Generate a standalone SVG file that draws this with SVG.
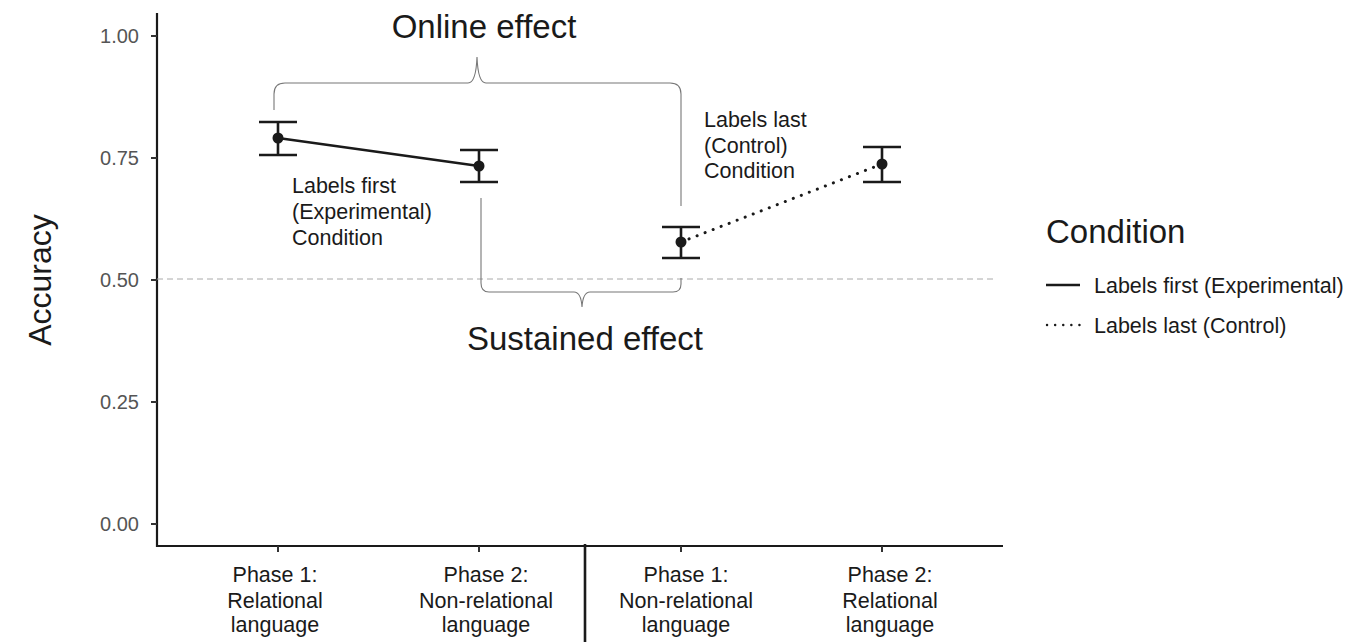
<svg xmlns="http://www.w3.org/2000/svg" width="1358" height="642" viewBox="0 0 1358 642">
<style>
text{font-family:"Liberation Sans",Arial,sans-serif;fill:#1a1a1a}
.tick{font-size:20px;fill:#555;text-anchor:end}
.xl{font-size:21.5px;text-anchor:middle}
.ann{font-size:21.5px}
.big{font-size:33px;text-anchor:middle}
.axis{stroke:#1a1a1a;stroke-width:2.2;fill:none}
.eb{stroke:#1a1a1a;stroke-width:2.6;fill:none}
.brace{stroke:#777;stroke-width:1.1;fill:none}
.pt{fill:#1a1a1a}
</style>
<rect width="1358" height="642" fill="#fff"/>
<g id="axes">
<line class="axis" x1="157" y1="13" x2="157" y2="547"/>
<line class="axis" x1="156" y1="546" x2="1003" y2="546"/>
<g stroke="#333" stroke-width="2">
<line x1="151" y1="36" x2="157" y2="36"/>
<line x1="151" y1="158" x2="157" y2="158"/>
<line x1="151" y1="280" x2="157" y2="280"/>
<line x1="151" y1="402" x2="157" y2="402"/>
<line x1="151" y1="524" x2="157" y2="524"/>
<line x1="278" y1="546" x2="278" y2="552"/>
<line x1="479" y1="546" x2="479" y2="552"/>
<line x1="681" y1="546" x2="681" y2="552"/>
<line x1="882" y1="546" x2="882" y2="552"/>
</g>
<text class="tick" x="139" y="43">1.00</text>
<text class="tick" x="139" y="165">0.75</text>
<text class="tick" x="139" y="287">0.50</text>
<text class="tick" x="139" y="409">0.25</text>
<text class="tick" x="139" y="531">0.00</text>
<text x="51" y="280" font-size="32" text-anchor="middle" transform="rotate(-90 51 280)">Accuracy</text>
<line x1="585" y1="544" x2="585" y2="642" stroke="#1a1a1a" stroke-width="2.6"/>
</g>
<g id="reference-line">
<line x1="157" y1="279" x2="993" y2="279" stroke="#aaa" stroke-width="1" stroke-dasharray="6 4"/>
</g>
<g id="x-labels">
<text class="xl" x="275" y="582">Phase 1:</text>
<text class="xl" x="275" y="608">Relational</text>
<text class="xl" x="275" y="632">language</text>
<text class="xl" x="486" y="582">Phase 2:</text>
<text class="xl" x="486" y="608">Non-relational</text>
<text class="xl" x="486" y="632">language</text>
<text class="xl" x="686" y="582">Phase 1:</text>
<text class="xl" x="686" y="608">Non-relational</text>
<text class="xl" x="686" y="632">language</text>
<text class="xl" x="890" y="582">Phase 2:</text>
<text class="xl" x="890" y="608">Relational</text>
<text class="xl" x="890" y="632">language</text>
</g>
<g id="connectors">
<line x1="278" y1="138" x2="479" y2="166" stroke="#1a1a1a" stroke-width="2.6"/>
<line x1="681" y1="242" x2="882" y2="164" stroke="#1a1a1a" stroke-width="3" stroke-dasharray="0.1 8.5" stroke-linecap="round"/>
</g>
<g id="online-brace">
<path class="brace" d="M274 110 L274 94 Q274 83 285 83 L468 83 Q476 83 477 57 Q478 83 486 83 L670 83 Q681 83 681 94 L681 206"/>
<text class="big" x="484" y="38">Online effect</text>
</g>
<g id="sustained-brace">
<path class="brace" d="M481 198 L481 283 Q481 292 489 292 L574 292 Q581 292 582 307 Q583 292 590 292 L673 292 Q681 292 681 284 L681 278"/>
<text class="big" x="585" y="350">Sustained effect</text>
</g>
<g id="p1-rel">
<path class="eb" d="M259 122 H297 M278 122 V155 M259 155 H297"/>
<circle class="pt" cx="278" cy="138" r="5.5"/>
</g>
<g id="p2-nonrel">
<path class="eb" d="M460 150 H498 M479 150 V182 M460 182 H498"/>
<circle class="pt" cx="479" cy="166" r="5.5"/>
</g>
<g id="c1-nonrel">
<path class="eb" d="M662 227 H700 M681 227 V258 M662 258 H700"/>
<circle class="pt" cx="681" cy="242" r="5.5"/>
</g>
<g id="c2-rel">
<path class="eb" d="M863 147 H901 M882 147 V182 M863 182 H901"/>
<circle class="pt" cx="882" cy="164" r="5.5"/>
</g>
<g id="label-first">
<text class="ann" x="292" y="193">Labels first</text>
<text class="ann" x="292" y="219">(Experimental)</text>
<text class="ann" x="292" y="245">Condition</text>
</g>
<g id="label-last">
<text class="ann" x="704" y="127">Labels last</text>
<text class="ann" x="704" y="153">(Control)</text>
<text class="ann" x="704" y="178">Condition</text>
</g>
<g id="legend">
<text x="1046" y="243" font-size="33">Condition</text>
<line x1="1046" y1="285" x2="1080" y2="285" stroke="#1a1a1a" stroke-width="2.4"/>
<line x1="1047" y1="325" x2="1080" y2="325" stroke="#1a1a1a" stroke-width="2.4" stroke-dasharray="0.1 8" stroke-linecap="round"/>
<text x="1094" y="293" font-size="21.5">Labels first (Experimental)</text>
<text x="1094" y="333" font-size="21.5">Labels last (Control)</text>
</g>
</svg>
